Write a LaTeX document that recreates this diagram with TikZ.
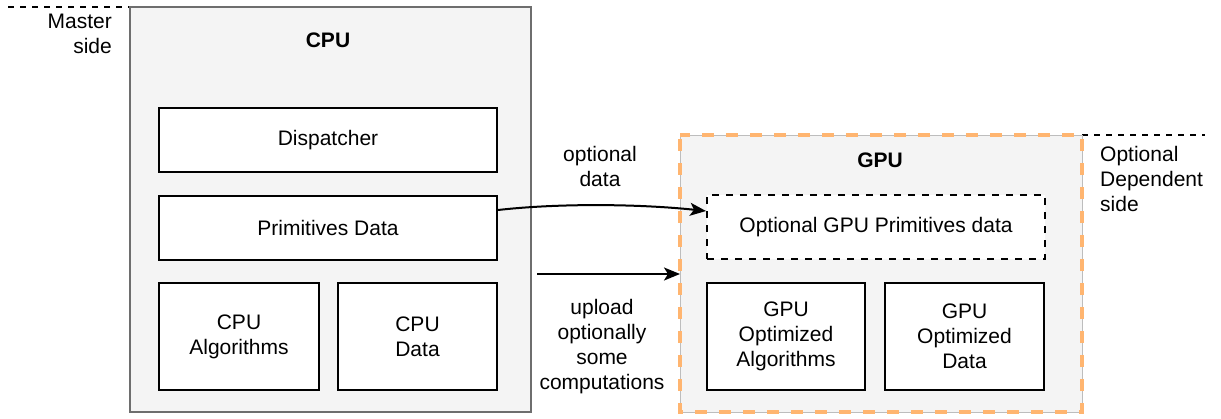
\documentclass[tikz,border=0pt]{standalone}
\usepackage{fontspec}
\setmainfont{Liberation Sans}
\usetikzlibrary{arrows.meta}
\definecolor{panelfill}{HTML}{F4F4F4}
\definecolor{panelline}{HTML}{6E6E6E}
\definecolor{gpuline}{HTML}{BDBDBD}
\definecolor{gpudash}{HTML}{FFB570}
\tikzset{
  every node/.style={font=\fontsize{21}{25}\selectfont, align=center, inner sep=0pt},
  block/.style={draw=black, line width=2pt, fill=white},
  optblock/.style={draw=black, line width=2pt, fill=white, dash pattern=on 7pt off 7pt},
  sideline/.style={draw=black, line width=1.6pt, dash pattern=on 6pt off 6pt},
  flow/.style={line width=2pt, -{Stealth[length=16pt,width=13pt,inset=4pt]}},
  title/.style={font=\fontsize{21}{25}\selectfont\bfseries}
}
\begin{document}
\begin{tikzpicture}[x=1pt,y=-1pt]
\useasboundingbox (0,0) rectangle (1221,418);

% master side (CPU)
\draw[sideline] (8,7) -- (130,7);
\node[anchor=north east, align=right] (mastertxt) at (112,14) {Master\\side};
\draw[draw=panelline, fill=panelfill, line width=2pt] (130,7) rectangle (531,412);
\node[title] (cpu) at (328,40) {CPU};
\node[block, minimum width=338pt, minimum height=64pt] (disp) at (328,140) {Dispatcher};
\node[block, minimum width=338pt, minimum height=64pt] (prim) at (328,228) {Primitives Data};
\node[block, minimum width=160pt, minimum height=107pt] (calg) at (239,336.5) {CPU\\Algorithms};
\node[block, minimum width=159pt, minimum height=107pt] (cdata) at (417.5,336.5) {CPU\\Data};

% optional dependent side (GPU)
\draw[sideline] (1082,135) -- (1205,135);
\node[anchor=north west, align=left] (deptxt) at (1100,146) {Optional\\Dependent\\side};
\draw[draw=gpuline, fill=panelfill, line width=1pt] (680,135) rectangle (1082,412);
\draw[draw=gpudash, line width=4pt, dash pattern=on 12pt off 12pt, dash phase=-4pt] (680,135) rectangle (1082,412);
\coordinate (gpuwest) at (680,274);
\node[title] (gpu) at (880,160) {GPU};
\node[optblock, minimum width=338pt, minimum height=64pt] (gprim) at (876,227) {Optional GPU Primitives data};
\node[block, minimum width=158pt, minimum height=107pt] (galg) at (786,336.5) {GPU\\Optimized\\Algorithms};
\node[block, minimum width=159pt, minimum height=107pt] (gdata) at (964.5,336.5) {GPU\\Optimized\\Data};

% transfers
\draw[flow] ([yshift=18pt]prim.east) .. controls (560,203) and (640,204) .. ([yshift=16pt]gprim.west);
\coordinate (upstart) at (537,274);
\draw[flow] (upstart) -- (gpuwest);
\node (optdata) at (600,166) {optional\\data};
\node (upload) at (602,347) {upload\\optionally\\some\\computations};
\end{tikzpicture}
\end{document}
